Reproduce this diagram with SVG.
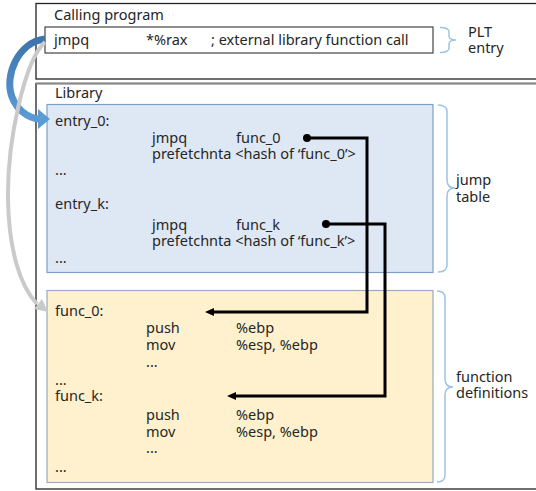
<svg xmlns="http://www.w3.org/2000/svg" width="536" height="491" viewBox="0 0 536 491">
<defs>
<style>
text{font-family:"Noto Sans","Open Sans","Liberation Sans",sans-serif;font-size:14.5px;fill:#262626}
.frame{fill:#fff;stroke:#222;stroke-width:1.3}
.jt{fill:#dee8f5;stroke:#7f9fc6;stroke-width:1.2}
.fd{fill:#fff1cd;stroke:#9aabbd;stroke-width:1.2}
.brace{fill:none;stroke:#9dc3e6;stroke-width:1.5}
.conn{fill:none;stroke:#000;stroke-width:3}
</style>
<linearGradient id="bg" x1="0" y1="0" x2="0" y2="1">
<stop offset="0" stop-color="#3d74ad"/>
<stop offset="1" stop-color="#5b9bd5"/>
</linearGradient>
</defs>
<rect width="536" height="491" fill="#fff"/>

<g id="calling-program">
<rect class="frame" x="36" y="3.5" width="502" height="75.5"/>
<text x="54" y="20">Calling program</text>
<rect x="45" y="27" width="388" height="26" fill="#fff" stroke="#444" stroke-width="1.2"/>
<text x="54" y="45">jmpq</text>
<text x="146" y="45">*%rax</text>
<text x="211" y="45">; external library function call</text>
</g>

<g id="plt-entry">
<path class="brace" d="M440,27.5 Q449,27.5 449,32 L449,36 Q449,40 456,40 Q449,40 449,44 L449,48 Q449,52.5 440,52.5"/>
<text x="468" y="37">PLT</text>
<text x="468" y="53">entry</text>
</g>

<g id="library">
<rect x="36" y="83.5" width="502" height="405.5" fill="#fff" stroke="#222" stroke-width="1.3"/>
<line x1="36" y1="83.5" x2="536" y2="83.5" stroke="#8a8a8a" stroke-width="2"/>
<text x="55" y="98">Library</text>
</g>

<g id="jump-table">
<rect class="jt" x="47" y="104.5" width="386" height="168"/>
<text x="55" y="126">entry_0:</text>
<text x="152" y="143">jmpq</text>
<text x="236" y="143">func_0</text>
<text x="152" y="159">prefetchnta &lt;hash  of ‘func_0’&gt;</text>
<text x="55" y="175">...</text>
<text x="55" y="209">entry_k:</text>
<text x="152" y="230">jmpq</text>
<text x="236" y="230">func_k</text>
<text x="152" y="246">prefetchnta &lt;hash  of ‘func_k’&gt;</text>
<text x="55" y="263">...</text>
</g>

<g id="jump-table-label">
<path class="brace" d="M438,105 Q447,105 447,112 L447,180 Q447,188 455,188 Q447,188 447,196 L447,265 Q447,272 438,272"/>
<text x="456" y="185">jump</text>
<text x="456" y="202">table</text>
</g>

<g id="function-definitions">
<rect class="fd" x="47" y="290.5" width="386" height="192"/>
<text x="55" y="316">func_0:</text>
<text x="146" y="333">push</text>
<text x="236" y="333">%ebp</text>
<text x="146" y="350">mov</text>
<text x="236" y="350">%esp, %ebp</text>
<text x="146" y="367">...</text>
<text x="55" y="385">...</text>
<text x="55" y="401">func_k:</text>
<text x="146" y="420">push</text>
<text x="236" y="420">%ebp</text>
<text x="146" y="437">mov</text>
<text x="236" y="437">%esp, %ebp</text>
<text x="146" y="453">...</text>
<text x="55" y="472">...</text>
</g>

<g id="function-definitions-label">
<path class="brace" d="M437,291 Q445,291 445,298 L445,379 Q445,387 453,387 Q445,387 445,395 L445,475 Q445,482 437,482"/>
<text x="456" y="382">function</text>
<text x="456" y="398">definitions</text>
</g>

<g id="connectors">
<path d="M45,39 C18,42 4,76 12,97 C17,110 28,118 39,119" fill="none" stroke="url(#bg)" stroke-width="7"/>
<polygon points="38,109 50,119 38,129" fill="#5b9bd5"/>
<path d="M45,42 C25,60 7,140 8,200 C9,250 20,286 37,304" fill="none" stroke="#cacaca" stroke-width="4"/>
<polygon points="48,312 34,309 42,299" fill="#cacaca"/>
<path class="conn" d="M307,138 H367 V312 H212"/>
<circle cx="307" cy="138" r="4"/>
<polygon points="205,312 214,308 214,316"/>
<path class="conn" d="M326,224 H385 V396 H234"/>
<circle cx="326" cy="224" r="4"/>
<polygon points="227,396 236,392 236,400"/>
</g>
</svg>
